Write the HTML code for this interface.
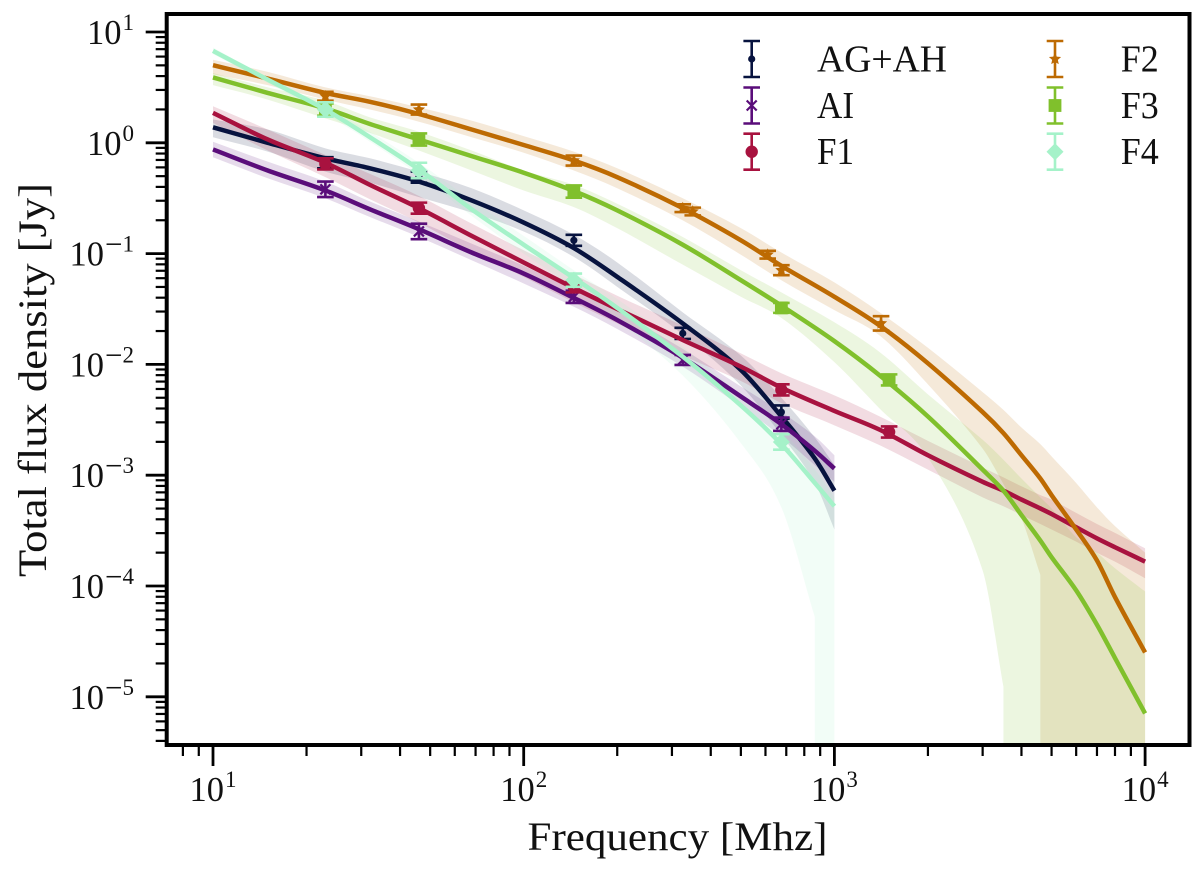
<!DOCTYPE html>
<html lang="en">
<head>
<meta charset="utf-8">
<title>Total flux density vs frequency</title>
<style>
html,body{margin:0;padding:0;background:#fff;}
svg{display:block;}
text{font-family:"Liberation Serif",serif;fill:#111;}
</style>
</head>
<body>
<svg id="chart" xmlns="http://www.w3.org/2000/svg" width="1200" height="869" viewBox="0 0 1200 869">
  <defs><clipPath id="plot-clip"><rect x="167" y="14" width="1022" height="731"/></clipPath></defs>
  <g id="bands" clip-path="url(#plot-clip)"></g>
  <g id="series" clip-path="url(#plot-clip)"></g>
  <g id="axes"></g>
  <g id="legend"></g>
  <text x="677.5" y="850" font-size="40" text-anchor="middle" textLength="300" lengthAdjust="spacingAndGlyphs">Frequency [Mhz]</text>
  <text transform="translate(46,380) rotate(-90)" font-size="40" text-anchor="middle" textLength="394" lengthAdjust="spacingAndGlyphs">Total flux density [Jy]</text>
</svg>
<script>
// Curve frequency grids (MHz)
const lowFreq = [10,15,23,32,46,68,100,145,200,325,500,675,865,1000];
const highFreq = [10,15,23,32,46,68,100,145,200,325,500,675,1000,1400,2000,3000,3500,4000,4600,5000,6000,7000,8000,10000];

// Model curves and band limits: log10(flux density / Jy)
const agCurve = [0.14,0.00,-0.14,-0.23,-0.35,-0.52,-0.72,-0.95,-1.21,-1.63,-2.05,-2.47,-2.85,-3.14];
const agUpper = [0.21,0.12,-0.05,-0.14,-0.26,-0.41,-0.61,-0.83,-1.08,-1.53,-1.92,-2.30,-2.66,-2.91];
const agLower = [0.05,-0.08,-0.26,-0.36,-0.49,-0.63,-0.80,-1.03,-1.30,-1.73,-2.19,-2.64,-3.07,-3.49];

const aiCurve = [-0.06,-0.25,-0.43,-0.60,-0.78,-0.99,-1.18,-1.40,-1.60,-1.94,-2.29,-2.54,-2.78,-2.94];
const aiUpper = [0.01,-0.17,-0.35,-0.53,-0.71,-0.91,-1.11,-1.33,-1.52,-1.86,-2.20,-2.43,-2.65,-2.82];
const aiLower = [-0.13,-0.32,-0.50,-0.67,-0.85,-1.06,-1.27,-1.48,-1.68,-2.02,-2.38,-2.65,-2.91,-3.06];

const f1Curve = [0.27,0.03,-0.18,-0.38,-0.59,-0.84,-1.08,-1.31,-1.50,-1.78,-2.02,-2.21,-2.42,-2.59,-2.82,-3.06,-3.14,-3.22,-3.30,-3.35,-3.47,-3.57,-3.65,-3.78];
const f1Upper = [0.33,0.12,-0.11,-0.28,-0.48,-0.73,-0.97,-1.19,-1.38,-1.65,-1.90,-2.08,-2.28,-2.47,-2.69,-2.93,-3.02,-3.10,-3.18,-3.22,-3.34,-3.44,-3.52,-3.66];
const f1Lower = [0.18,-0.07,-0.31,-0.51,-0.72,-0.98,-1.21,-1.44,-1.63,-1.92,-2.15,-2.35,-2.55,-2.73,-2.95,-3.20,-3.28,-3.36,-3.44,-3.49,-3.60,-3.70,-3.78,-3.93];

const f2Curve = [0.70,0.58,0.45,0.37,0.26,0.12,-0.02,-0.16,-0.31,-0.59,-0.88,-1.11,-1.39,-1.65,-1.99,-2.43,-2.62,-2.82,-3.03,-3.18,-3.49,-3.77,-4.10,-4.60];
const f2Upper = [0.75,0.64,0.50,0.42,0.32,0.20,0.06,-0.08,-0.23,-0.50,-0.77,-0.99,-1.26,-1.53,-1.85,-2.25,-2.41,-2.57,-2.72,-2.83,-3.07,-3.29,-3.46,-3.70];
const f2Lower = [0.62,0.52,0.39,0.30,0.19,0.05,-0.09,-0.25,-0.41,-0.70,-1.01,-1.24,-1.51,-1.74,-2.18,-2.76,-3.08,-3.39,-3.90,null,null,null,null,null];

const f3Curve = [0.59,0.45,0.31,0.17,0.03,-0.12,-0.27,-0.435,-0.61,-0.92,-1.24,-1.47,-1.79,-2.10,-2.47,-2.95,-3.14,-3.36,-3.59,-3.74,-4.04,-4.35,-4.65,-5.15];
const f3Upper = [0.63,0.50,0.38,0.23,0.10,-0.07,-0.25,-0.38,-0.55,-0.85,-1.15,-1.35,-1.62,-1.89,-2.27,-2.68,-2.86,-3.03,-3.20,-3.30,-3.56,-3.70,-3.84,-4.05];
const f3Lower = [0.52,0.39,0.22,0.09,-0.07,-0.25,-0.43,-0.58,-0.77,-1.10,-1.39,-1.58,-1.98,-2.40,-2.84,-3.86,-4.91,null,null,null,null,null,null,null];

const f4Curve = [0.83,0.57,0.30,0.05,-0.24,-0.60,-0.92,-1.22,-1.49,-1.93,-2.37,-2.72,-3.07,-3.28];
const f4Upper = [0.86,0.59,0.33,0.10,-0.18,-0.52,-0.84,-1.15,-1.41,-1.84,-2.28,-2.59,-2.95,-3.20];
const f4Lower = [0.80,0.54,0.26,0.01,-0.29,-0.66,-1.00,-1.31,-1.60,-2.10,-2.71,-3.29,-4.28,null];

// Measured points: frequency (MHz), log10 flux, log10 half error
const agPointFreq = [23,46,145,325,675];
const agPointFlux = [-0.18,-0.31,-0.88,-1.72,-2.43];
const agPointErr = [0.05,0.05,0.05,0.05,0.06];
const aiPointFreq = [23,46,145,325,675];
const aiPointFlux = [-0.42,-0.80,-1.39,-1.96,-2.54];
const aiPointErr = [0.07,0.07,0.055,0.045,0.06];
const f1PointFreq = [23,46,145,675,1500];
const f1PointFlux = [-0.19,-0.59,-1.30,-2.23,-2.61];
const f1PointErr = [0.05,0.05,0.05,0.05,0.05];
const f2PointFreq = [23,46,145,325,350,610,675,1413];
const f2PointFlux = [0.42,0.30,-0.16,-0.59,-0.62,-1.01,-1.15,-1.63];
const f2PointErr = [0.04,0.045,0.045,0.035,0.035,0.035,0.045,0.065];
const f3PointFreq = [23,46,145,675,1500];
const f3PointFlux = [0.30,0.03,-0.44,-1.49,-2.14];
const f3PointErr = [0.055,0.055,0.055,0.045,0.05];
const f4PointFreq = [23,46,145,675];
const f4PointFlux = [0.30,-0.25,-1.24,-2.70];
const f4PointErr = [0.065,0.07,0.06,0.07];

// Tick labels
const xTickDecades = [1,2,3,4];
const yTickDecades = [1,0,-1,-2,-3,-4,-5];
const minorMultipliers = [2,3,4,5,6,7,8,9];

// Series names and order
const seriesNames = ["AG+AH","AI","F1","F2","F3","F4"];

const NS = "http://www.w3.org/2000/svg";
const xMinLog = 0.849, xMaxLog = 4.141, yMinLog = -5.435, yMaxLog = 1.162;
const plotL = 166.7, plotR = 1189.5, plotT = 14, plotB = 745;
function xPos(mhz){ return 213 + (Math.log10(mhz) - 1) * 310.7; }
function yPos(logFlux){ return 32 + (1 - logFlux) * 110.8; }
function make(parent, tag, attrs){
  const el = document.createElementNS(NS, tag);
  for (const k in attrs) el.setAttribute(k, attrs[k]);
  parent.appendChild(el);
  return el;
}
// smooth cubic segments through the given points
function curveThrough(pts){
  const n = pts.length, slope = [];
  for (let i = 0; i < n; i++){
    const a = pts[Math.max(0, i-1)], b = pts[Math.min(n-1, i+1)];
    slope.push((b[1]-a[1]) / (b[0]-a[0]));
  }
  let d = "";
  for (let i = 0; i < n-1; i++){
    const h = (pts[i+1][0]-pts[i][0]) / 3;
    d += "C" + (pts[i][0]+h) + " " + (pts[i][1]+slope[i]*h) + " " + (pts[i+1][0]-h) + " " + (pts[i+1][1]-slope[i+1]*h) + " " + pts[i+1][0] + " " + pts[i+1][1];
  }
  return d;
}
const bandsG = document.getElementById("bands");
const seriesG = document.getElementById("series");
const axesG = document.getElementById("axes");
const legendG = document.getElementById("legend");

const seriesList = [
  {name:seriesNames[0],slug:"ag-ah",color:"#07133f",marker:"dot",freq:lowFreq,curve:agCurve,upper:agUpper,lower:agLower,pf:agPointFreq,pv:agPointFlux,pe:agPointErr},
  {name:seriesNames[1],slug:"ai",color:"#5a0d7a",marker:"cross",freq:lowFreq,curve:aiCurve,upper:aiUpper,lower:aiLower,pf:aiPointFreq,pv:aiPointFlux,pe:aiPointErr},
  {name:seriesNames[2],slug:"f1",color:"#a8123f",marker:"circle",freq:highFreq,curve:f1Curve,upper:f1Upper,lower:f1Lower,pf:f1PointFreq,pv:f1PointFlux,pe:f1PointErr},
  {name:seriesNames[3],slug:"f2",color:"#bd6a02",marker:"star",freq:highFreq,curve:f2Curve,upper:f2Upper,lower:f2Lower,pf:f2PointFreq,pv:f2PointFlux,pe:f2PointErr},
  {name:seriesNames[4],slug:"f3",color:"#80c02c",marker:"square",freq:highFreq,curve:f3Curve,upper:f3Upper,lower:f3Lower,pf:f3PointFreq,pv:f3PointFlux,pe:f3PointErr},
  {name:seriesNames[5],slug:"f4",color:"#a5f2c9",marker:"diamond",freq:lowFreq,curve:f4Curve,upper:f4Upper,lower:f4Lower,pf:f4PointFreq,pv:f4PointFlux,pe:f4PointErr}
];

function drawMarker(parent, kind, cx, cy, color, label){
  let el;
  if (kind === "dot") el = make(parent, "circle", {cx:cx, cy:cy, r:3.6, fill:color});
  else if (kind === "circle") el = make(parent, "circle", {cx:cx, cy:cy, r:6.2, fill:color});
  else if (kind === "square") el = make(parent, "rect", {x:cx-6.4, y:cy-6.4, width:12.8, height:12.8, fill:color});
  else if (kind === "diamond") el = make(parent, "polygon", {points:[[cx,cy-8.5],[cx+8.5,cy],[cx,cy+8.5],[cx-8.5,cy]].join(" "), fill:color});
  else if (kind === "cross") el = make(parent, "path", {d:"M"+(cx-5)+" "+(cy-5)+"L"+(cx+5)+" "+(cy+5)+"M"+(cx+5)+" "+(cy-5)+"L"+(cx-5)+" "+(cy+5), stroke:color, "stroke-width":2.2, fill:"none"});
  else {
    const pts = [];
    for (let i = 0; i < 10; i++){
      const r = i % 2 ? 3 : 6.4, a = -Math.PI/2 + i * Math.PI/5;
      pts.push([cx + r*Math.cos(a), cy + r*Math.sin(a)]);
    }
    el = make(parent, "polygon", {points:pts.join(" "), fill:color});
  }
  
  
  return el;
}

function drawErrorBar(parent, cx, yTop, yBottom, color){
  const bar = make(parent, "path", {d:"M"+cx+" "+yTop+"V"+yBottom+"M"+(cx-8.3)+" "+yTop+"H"+(cx+8.3)+"M"+(cx-8.3)+" "+yBottom+"H"+(cx+8.3), stroke:color, "stroke-width":2.6, fill:"none"});
  
  
  return bar;
}

seriesList.forEach(function(s){
  // shaded band
  const top = s.freq.map(function(f,i){ return [xPos(f), yPos(s.upper[i])]; });
  const bottom = [];
  s.freq.forEach(function(f,i){
    if (s.lower[i] !== null) bottom.push([xPos(f), yPos(s.lower[i])]);
  });
  bottom.reverse();
  let d = "M" + top[0][0] + " " + top[0][1] + curveThrough(top);
  if (bottom.length < s.freq.length){
    d += "L" + top[top.length-1][0] + " " + (plotB + 5) + "L" + bottom[0][0] + " " + (plotB + 5);
  }
  d += "L" + bottom[0][0] + " " + bottom[0][1] + curveThrough(bottom) + "Z";
  const band = make(bandsG, "path", {d:d, fill:s.color, "fill-opacity":0.15});
  
  

  // model line
  const linePts = s.freq.map(function(f,i){ return [xPos(f), yPos(s.curve[i])]; });
  const line = make(seriesG, "path", {d:"M" + linePts[0][0] + " " + linePts[0][1] + curveThrough(linePts), fill:"none", stroke:s.color, "stroke-width":4.5, "stroke-linejoin":"round"});
  
  

  // measurements
  const group = make(seriesG, "g", {});
  
  
  s.pf.forEach(function(f,i){
    const cx = xPos(f);
    drawErrorBar(group, cx, yPos(s.pv[i] + s.pe[i]), yPos(s.pv[i] - s.pe[i]), s.color);
    drawMarker(group, s.marker, cx, yPos(s.pv[i]), s.color, 'point-' + s.slug);
  });
});

// spines
const frame = make(axesG, "rect", {x:plotL, y:plotT, width:plotR-plotL, height:plotB-plotT, fill:"none", stroke:"#000", "stroke-width":4});



function tick(x1, y1, x2, y2, width, label){
  const t = make(axesG, "line", {x1:x1, y1:y1, x2:x2, y2:y2, stroke:"#000", "stroke-width":width});
  
  
}
function tickLabel(x, y, anchor, base, exponent, label){
  const t = make(axesG, "text", {x:x, y:y, "text-anchor":anchor, "font-size":34.5});
  
  
  const a = make(t, "tspan", {});
  a.textContent = base;
  if (exponent < 0){
    const m = make(t, "tspan", {dx:1, dy:-11, "font-size":31});
    m.textContent = "\u2212";
    const b = make(t, "tspan", {dy:-3, "font-size":23});
    b.textContent = String(-exponent);
  } else {
    const b = make(t, "tspan", {dx:1, dy:-14, "font-size":23});
    b.textContent = String(exponent);
  }
}

// x ticks
for (let d = 0; d <= 4; d++){
  minorMultipliers.forEach(function(m){
    const lg = d + Math.log10(m);
    if (lg > xMinLog && lg < xMaxLog) tick(xPos(Math.pow(10,lg)), plotB, xPos(Math.pow(10,lg)), plotB+11, 2.2, 'x-minor-tick');
  });
}
xTickDecades.forEach(function(d){
  const x = xPos(Math.pow(10,d));
  tick(x, plotB, x, plotB+21, 2.8, 'x-major-tick');
  tickLabel(x, 801, "middle", "10", d, 'x-tick-label');
});

// y ticks
for (let d = -6; d <= 1; d++){
  minorMultipliers.forEach(function(m){
    const lg = d + Math.log10(m);
    if (lg > yMinLog && lg < yMaxLog) tick(plotL-11, yPos(lg), plotL, yPos(lg), 2.2, 'y-minor-tick');
  });
}
yTickDecades.forEach(function(d){
  const y = yPos(d);
  tick(plotL-21, y, plotL, y, 2.8, 'y-major-tick');
  tickLabel(134, y+12, "end", "10", d, 'y-tick-label');
});

// legend
const legendX = [751.7, 751.7, 751.7, 1055, 1055, 1055];
const legendY = [59, 105.5, 151.7, 59, 105.5, 151.7];
const legendTextX = [817, 817, 817, 1120.7, 1120.7, 1120.7];
const legendTextLen = [130, 37, 37, 38, 38, 38];
seriesList.forEach(function(s,i){
  const entry = make(legendG, "g", {});
  
  
  drawErrorBar(entry, legendX[i], legendY[i]-18, legendY[i]+18, s.color);
  drawMarker(entry, s.marker, legendX[i], legendY[i], s.color, 'legend-marker-' + s.slug);
  const t = make(entry, "text", {x:legendTextX[i], y:legendY[i]+12.5, "font-size":38, textLength:legendTextLen[i], lengthAdjust:"spacingAndGlyphs"});
  
  
  t.textContent = s.name;
});
</script>
</body>
</html>
